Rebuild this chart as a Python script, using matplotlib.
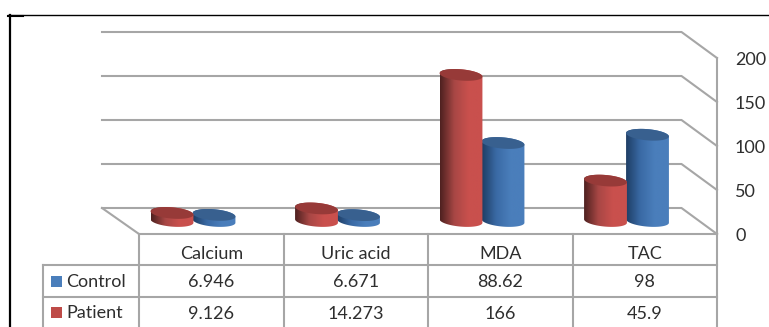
import numpy as np
import matplotlib
matplotlib.use('Agg')
import matplotlib.pyplot as plt
from matplotlib.colors import LinearSegmentedColormap
from matplotlib.patches import Polygon, Rectangle

plt.rcParams['font.family'] = ['Lato', 'DejaVu Sans']

categories = ['Calcium', 'Uric acid', 'MDA', 'TAC']
control = [6.946, 6.671, 88.62, 98]
patient = [9.126, 14.273, 166, 45.9]
y_ticks = [0, 50, 100, 150, 200]

W, H = 769, 327
# scale of the front plane, in pixels per category and pixels per unit
PX_X = 144.5
PX_Y = 0.88
X0, Y0 = 139, 234
# the back wall sits this far behind the front plane
DEPTH_X, DEPTH_Y = 35.5 / PX_X, 26 / PX_Y

GRID = '#a6a6a6'
TEXT = '#2e2e2e'
FS = 13

fig = plt.figure(figsize=(W / 100, H / 100), dpi=100)
ax = fig.add_axes([0, 0, 1, 1])
ax.set_xlim(-X0 / PX_X, (W - X0) / PX_X)
ax.set_ylim((Y0 - H) / PX_Y, Y0 / PX_Y)
ax.axis('off')


def row_y(px):
    # table rows are placed by pixel height below the floor line
    return (Y0 - px) / PX_Y


# black frame around the figure
ax.plot([(9.5 - X0) / PX_X] * 2, [row_y(15), row_y(330)], color='black', lw=1.6, zorder=5)
ax.plot([(8 - X0) / PX_X, (769 - X0) / PX_X], [row_y(15)] * 2, color='black', lw=1.0, zorder=5)
ax.plot([(8 - X0) / PX_X, (23 - X0) / PX_X], [row_y(15.5)] * 2, color='black', lw=1.5, zorder=5)

# walls and gridlines
n = len(categories)
for t in y_ticks:
    ax.plot([-DEPTH_X - 1.5 / PX_X, n - DEPTH_X, n],
            [t + DEPTH_Y, t + DEPTH_Y, t], color=GRID, lw=1.5, zorder=1)
    ax.text(n + 18 / PX_X, t - 2, str(t), ha='left', va='center', fontsize=FS, color=TEXT)
ax.plot([-DEPTH_X - 1.5 / PX_X, 0], [DEPTH_Y, 0], color=GRID, lw=1.5, zorder=1)
ax.plot([n, n], [0, y_ticks[-1]], color=GRID, lw=1.5, zorder=1)
ax.plot([0, n], [0, 0], color=GRID, lw=1.5, zorder=1)


def ellipse(cx, base, a=21.5, b=5.6, tilt=-5):
    # outline offsets of a tilted ellipse, returned in data units
    th = np.linspace(0, 2 * np.pi, 181)
    r = np.deg2rad(tilt)
    ex = a * np.cos(th)
    ey = b * np.sin(th)
    px = ex * np.cos(r) - ey * np.sin(r)
    py = ex * np.sin(r) + ey * np.cos(r)
    return cx + px / PX_X, base + py / PX_Y


def cylinder(cx, value, dark, mid, light, top, z):
    base = 13 / PX_Y
    x_b, y_b = ellipse(cx, base)
    x_t, y_t = ellipse(cx, base + value)
    # body outline: lower half of the foot, upper half of the lid
    lo = np.r_[91:181]
    hi = np.r_[1:91]
    xs = np.r_[x_b[lo], x_t[hi]]
    ys = np.r_[y_b[lo], y_t[hi]]
    body = Polygon(np.c_[xs, ys], closed=True, fc='none', ec='none', zorder=z)
    ax.add_patch(body)
    cmap = LinearSegmentedColormap.from_list('c', [dark, mid, light, light])
    grad = np.linspace(0, 1, 64).reshape(1, -1)
    im = ax.imshow(grad, cmap=cmap, extent=[xs.min(), xs.max(), ys.min(), ys.max()],
                   aspect='auto', zorder=z, interpolation='bilinear')
    im.set_clip_path(body)
    ax.add_patch(Polygon(np.c_[x_t, y_t], closed=True, fc=top, ec='none', zorder=z + 0.1))


for i in range(n):
    cylinder(i + 75 / PX_X, control[i], '#1f3f66', '#3a6aa5', '#4a7ebb', '#38608f', 3 + i * 0.01)
    cylinder(i + 33 / PX_X, patient[i], '#4f2120', '#a84745', '#c9504d', '#973a38', 4 + i * 0.01)

ax.set_xlim(-X0 / PX_X, (W - X0) / PX_X)
ax.set_ylim((Y0 - H) / PX_Y, Y0 / PX_Y)

# data table under the floor
left = (43 - X0) / PX_X
for px in (265, 297):
    ax.plot([left, n], [row_y(px)] * 2, color=GRID, lw=1.5, zorder=1)
ax.plot([left, left], [row_y(265), row_y(330)], color=GRID, lw=1.5, zorder=1)
for i in range(n + 1):
    ax.plot([i, i], [0, row_y(330)], color=GRID, lw=1.5, zorder=1)

for i, name in enumerate(categories):
    ax.text(i + 0.5, row_y(254), name, ha='center', va='center', fontsize=FS, color=TEXT)
    ax.text(i + 0.5, row_y(282), str(control[i]), ha='center', va='center', fontsize=FS, color=TEXT)
    ax.text(i + 0.5, row_y(314), str(patient[i]), ha='center', va='center', fontsize=FS, color=TEXT)

for label, color, px in (('Control', '#4a7ebb', 281), ('Patient', '#be4b48', 312)):
    ax.add_patch(Rectangle(((51 - X0) / PX_X, row_y(px + 5.5)), 11 / PX_X, 11 / PX_Y,
                           fc=color, ec='none', zorder=2))
    ax.text((66 - X0) / PX_X, row_y(px + 1), label, ha='left', va='center', fontsize=FS, color=TEXT)

fig.savefig('out.png', dpi=100)
